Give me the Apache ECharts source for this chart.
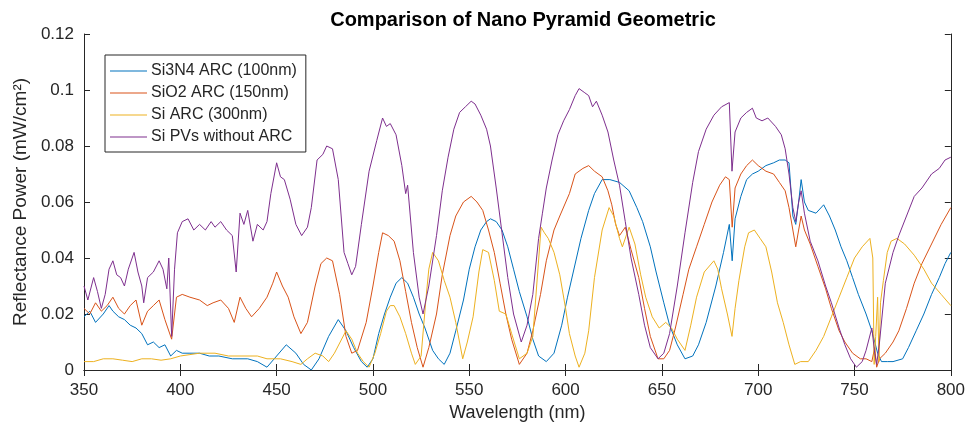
<!DOCTYPE html>
<html>
<head>
<meta charset="utf-8">
<script src="https://cdn.jsdelivr.net/npm/echarts@6/dist/echarts.min.js"></script>
<style>html,body{margin:0;padding:0;background:#fff;}#c{width:968px;height:432px;}</style>
</head>
<body>
<div id="c"></div>
<script>
const xTicks = [350, 400, 450, 500, 550, 600, 650, 700, 750, 800];
const yTicks = [0, 0.02, 0.04, 0.06, 0.08, 0.1, 0.12];
const seriesNames = ['Si3N4 ARC (100nm)', 'SiO2 ARC (150nm)', 'Si ARC (300nm)', 'Si PVs without ARC'];

const wlSi3N4 = [350,353,356,360,363,365,368,371,374,377,380,383,386,389,392,395,398,401,405,410,415,420,427,435,440,445,450,455,460,464,468,472,477,482,486,490,494,497,500,503,506,509,512,515,518,521,524,527,531,534,537,540,543,547,550,553,556,559,561,564,567,570,573,576,580,583,586,590,594,598,601,604,608,612,615,619,623,628,633,637,640,644,647,651,654,658,662,666,669,673,678,682,685,686.5,688,691,694,697,700,704,708,711,714,716,718,719.5,721,722.3,724,726,730,734,737,740,743,746,749,752,756,759,762,764,767,770,775,778,782,786,790,794,797,800];
const rSi3N4 = [0.019,0.021,0.017,0.020,0.023,0.021,0.019,0.018,0.016,0.015,0.013,0.009,0.010,0.008,0.009,0.005,0.007,0.006,0.006,0.006,0.005,0.005,0.004,0.004,0.003,0.001,0.005,0.009,0.006,0.002,0.000,0.004,0.012,0.018,0.014,0.008,0.003,0.001,0.004,0.013,0.020,0.026,0.031,0.033,0.031,0.026,0.020,0.015,0.007,0.004,0.002,0.006,0.014,0.025,0.036,0.044,0.050,0.053,0.054,0.053,0.050,0.044,0.036,0.028,0.019,0.011,0.005,0.003,0.006,0.016,0.026,0.035,0.047,0.057,0.063,0.068,0.068,0.067,0.064,0.058,0.053,0.044,0.035,0.024,0.016,0.009,0.004,0.005,0.009,0.017,0.030,0.042,0.052,0.039,0.054,0.062,0.068,0.070,0.071,0.073,0.074,0.075,0.075,0.074,0.055,0.052,0.060,0.068,0.060,0.057,0.056,0.059,0.055,0.050,0.044,0.039,0.033,0.027,0.020,0.014,0.006,0.003,0.003,0.003,0.004,0.008,0.014,0.020,0.027,0.033,0.038,0.042];

const wlSiO2 = [350,353,356,359,362,365,368,371,374,377,380,383,386,389,392,395.5,398,401,405,410,414,417,421,425,428,431,434,437,441,445,448,450,453,456,459,462.6,466,470,473,476,479,482.7,486,489,492,496.5,500,503,505,508,511,514,517,520,523,526,529,533,536,540,543,547,551,554,557,560,563,566,569,572,576,580,583,587,590,594,597,602,605,609,612,615,619,622,624,626,628,631,634,638,641,644,648,651,654,657,661,664,668,672,676,680,683,685,686.5,688,691,694,697,700,704,708,711,714,716,718,719.5,721,722.3,724,727,731,735,738,742,745,749,753,756,759,760.5,761.5,763,766,770,773,777,781,785,790,795,800];
const rSiO2 = [0.022,0.020,0.024,0.021,0.023,0.026,0.022,0.020,0.023,0.025,0.016,0.021,0.023,0.025,0.018,0.011,0.026,0.027,0.026,0.025,0.023,0.024,0.025,0.022,0.017,0.026,0.022,0.019,0.022,0.026,0.031,0.035,0.030,0.026,0.019,0.013,0.017,0.030,0.038,0.040,0.039,0.027,0.012,0.006,0.007,0.017,0.030,0.042,0.049,0.048,0.046,0.039,0.028,0.017,0.008,0.001,0.008,0.020,0.034,0.048,0.055,0.060,0.062,0.060,0.057,0.050,0.042,0.031,0.020,0.011,0.002,0.006,0.014,0.027,0.039,0.050,0.055,0.063,0.070,0.072,0.073,0.071,0.069,0.064,0.059,0.052,0.048,0.051,0.043,0.033,0.022,0.012,0.004,0.004,0.007,0.015,0.027,0.036,0.044,0.052,0.060,0.066,0.069,0.068,0.051,0.065,0.070,0.073,0.075,0.073,0.071,0.070,0.067,0.064,0.058,0.050,0.044,0.050,0.055,0.050,0.045,0.037,0.029,0.022,0.014,0.010,0.006,0.004,0.004,0.003,0.008,0.001,0.004,0.006,0.010,0.014,0.022,0.031,0.038,0.045,0.052,0.058];

const wlSi = [350,355,360,365,370,375,380,385,390,395,400,405,410,418,425,432,440,445,452,458,462.6,466,470,474,477,480,483,486,489,492,495,498,501,504,507,509,511,514,517,520,522,525,527.6,529,531,534,537,540,543,546.6,549,552,555,557,560,563,565.6,569,572,576,580,583,585,587.3,589,591,594,597,600,602,605,607,610,612,615,619,622.6,625,628,629.5,633,636,639,641.6,645,648.6,652,655,658,662,665,668,672,677,679,681,684,686.4,688,690,693,695,698,701,704,707,710,713,716,719,722,726,730,734,738,742,746,750,754,758,759.5,760.2,761,762,762.7,763.5,765,767,769,772,776,781,786,790,795,800];
const rSi = [0.003,0.003,0.004,0.004,0.0035,0.003,0.004,0.004,0.0035,0.004,0.005,0.0055,0.006,0.006,0.005,0.005,0.005,0.004,0.004,0.003,0.002,0.004,0.006,0.005,0.003,0.006,0.010,0.014,0.011,0.006,0.003,0.001,0.006,0.013,0.021,0.023,0.023,0.019,0.013,0.006,0.002,0.005,0.026,0.036,0.042,0.039,0.032,0.026,0.017,0.004,0.010,0.019,0.035,0.043,0.042,0.032,0.021,0.020,0.013,0.004,0.006,0.012,0.030,0.051,0.049,0.047,0.042,0.034,0.022,0.013,0.005,0.001,0.006,0.014,0.033,0.050,0.058,0.055,0.047,0.044,0.051,0.045,0.034,0.026,0.019,0.015,0.017,0.015,0.011,0.007,0.016,0.026,0.035,0.039,0.036,0.029,0.020,0.012,0.022,0.032,0.044,0.049,0.050,0.047,0.044,0.035,0.024,0.017,0.009,0.002,0.003,0.003,0.007,0.012,0.019,0.026,0.033,0.040,0.044,0.047,0.040,0.002,0.012,0.026,0.003,0.024,0.032,0.042,0.046,0.047,0.045,0.041,0.036,0.031,0.027,0.023];

const wlBare = [350,352,355,357,359,361,363,365,367,369,371,373,376,378,380,381,383,386,389,391,393,394,395.5,397,398.5,401,404,407,410,413,416,418,421,424,427,429,431,433,435,437.7,440,443,445,447,450,452,454,457,460,463,466,468,471,474,476,479,482,485,487,489,491,494,498,502,505,507,509,512,515,517,518,521,524,526,529,533,536,539,542,545,548,551,553,556,559,561,564,567,570,573,577,580,583,586,588,590,593,596,599,602,605,607,610,612,614,616,619,622,625,628,631,634,638,641,644,648,651,654,658,662,666,669,673,677,681,685,686.4,688,691,694,697,699,702,705,709,712,714,716,718,719.5,721,722.3,724,727,731,735,738,742,745,748,751,754,756,759,760.5,761.5,763,766,770,773,777,781,785,790,794,797,800];
const rBare = [0.030,0.025,0.033,0.028,0.022,0.027,0.036,0.039,0.034,0.033,0.030,0.036,0.042,0.035,0.030,0.024,0.033,0.035,0.039,0.036,0.029,0.040,0.012,0.036,0.049,0.053,0.054,0.050,0.052,0.050,0.053,0.051,0.053,0.050,0.048,0.035,0.056,0.052,0.057,0.046,0.052,0.050,0.053,0.063,0.074,0.069,0.068,0.061,0.052,0.048,0.051,0.058,0.075,0.077,0.080,0.079,0.068,0.042,0.038,0.034,0.037,0.052,0.071,0.082,0.090,0.087,0.088,0.084,0.073,0.063,0.066,0.042,0.026,0.020,0.030,0.048,0.064,0.076,0.086,0.092,0.094,0.096,0.095,0.091,0.086,0.080,0.065,0.049,0.033,0.020,0.010,0.016,0.027,0.047,0.056,0.065,0.075,0.084,0.089,0.093,0.098,0.1005,0.099,0.098,0.094,0.096,0.091,0.085,0.075,0.066,0.053,0.040,0.027,0.016,0.008,0.004,0.006,0.013,0.030,0.049,0.067,0.078,0.086,0.091,0.094,0.0955,0.071,0.085,0.090,0.092,0.0935,0.090,0.089,0.090,0.087,0.084,0.079,0.070,0.058,0.053,0.060,0.064,0.056,0.046,0.039,0.030,0.024,0.015,0.009,0.004,0.001,0.003,0.007,0.015,0.006,0.002,0.010,0.031,0.042,0.048,0.055,0.062,0.065,0.070,0.072,0.075,0.076];

const colors = ['#0072BD', '#D95319', '#EDB120', '#7E2F8E'];
const wls = [wlSi3N4, wlSiO2, wlSi, wlBare];
const vals = [rSi3N4, rSiO2, rSi, rBare];

const txt = '#262626';
const font = 'Liberation Sans, Arial, sans-serif';

const chart = echarts.init(document.getElementById('c'), null, {renderer: 'canvas'});
const axisCommon = {
  axisLine: {show: true, lineStyle: {color: txt, width: 1}},
  splitLine: {show: false},
  axisTick: {show: true, inside: true, length: 6, lineStyle: {color: txt}},
};
chart.setOption({
  animation: false,
  backgroundColor: '#fff',
  title: {
    text: 'Comparison of Nano Pyramid Geometric',
    left: 518, top: 5, textAlign: 'center',
    textStyle: {fontFamily: font, fontSize: 20, fontWeight: 'bold', color: '#000'}
  },
  legend: {
    orient: 'vertical', left: 105, top: 55,
    data: seriesNames,
    icon: 'rect',
    itemWidth: 37, itemHeight: 1.2, itemGap: 6,
    padding: [8, 9, 7, 5],
    borderColor: txt, borderWidth: 1, backgroundColor: '#fff',
    textStyle: {fontFamily: font, fontSize: 16, color: txt, lineHeight: 16, padding: [0, 0, 0, -1]}
  },
  grid: {left: 84, right: 16, top: 34, bottom: 62, containLabel: false},
  xAxis: [
    Object.assign({}, axisCommon, {
      type: 'value', min: xTicks[0], max: xTicks[xTicks.length - 1], interval: 50, position: 'bottom',
      axisLabel: {fontFamily: font, fontSize: 17, color: txt, margin: 12},
      name: 'Wavelength (nm)', nameLocation: 'middle', nameGap: 32,
      nameTextStyle: {fontFamily: font, fontSize: 18, color: txt}
    }),
    Object.assign({}, axisCommon, {
      type: 'value', min: xTicks[0], max: xTicks[xTicks.length - 1], interval: 50, position: 'top',
      axisLabel: {show: false}
    })
  ],
  yAxis: [
    Object.assign({}, axisCommon, {
      type: 'value', min: yTicks[0], max: yTicks[yTicks.length - 1], interval: 0.02, position: 'left',
      axisLabel: {fontFamily: font, fontSize: 17, color: txt, margin: 10,
        formatter: v => (Math.round(v * 100) / 100).toString()},
      name: 'Reflectance Power (mW/cm²)', nameLocation: 'middle', nameGap: 53,
      nameTextStyle: {fontFamily: font, fontSize: 19, color: txt}
    }),
    Object.assign({}, axisCommon, {
      type: 'value', min: yTicks[0], max: yTicks[yTicks.length - 1], interval: 0.02, position: 'right',
      axisLabel: {show: false}
    })
  ],
  series: seriesNames.map((n, i) => ({
    name: n, type: 'line', symbol: 'none', xAxisIndex: 0, yAxisIndex: 0,
    lineStyle: {color: colors[i], width: 1}, itemStyle: {color: colors[i]},
    data: wls[i].map((x, j) => [x, vals[i][j]]),
    z: 2
  }))
});
</script>
</body>
</html>
